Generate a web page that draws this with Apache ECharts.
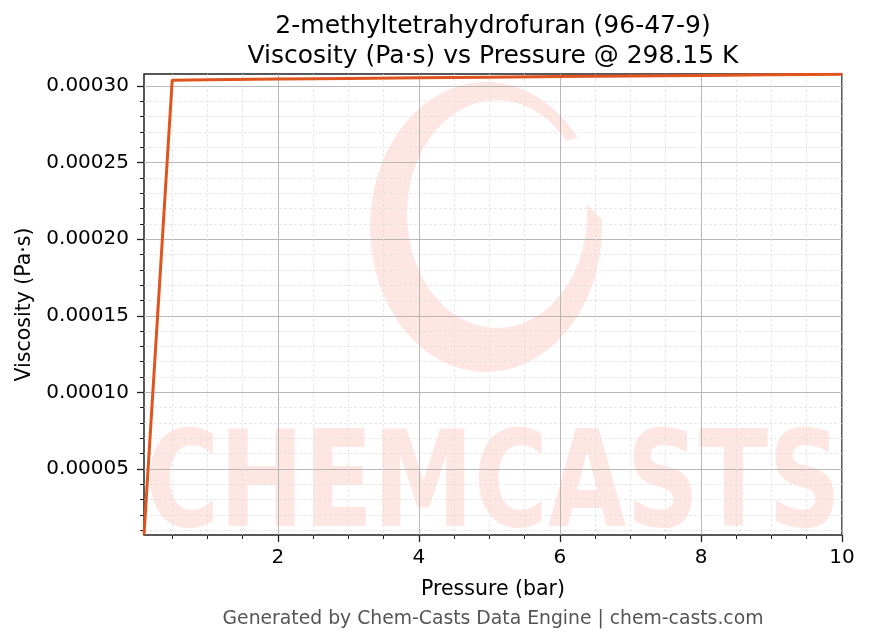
<!DOCTYPE html>
<html>
<head>
<meta charset="utf-8">
<script src="https://cdn.jsdelivr.net/npm/echarts@6/dist/echarts.min.js"></script>
<style>
  html, body { margin: 0; padding: 0; background: #fff; }
  #main { width: 869px; height: 644px; }
</style>
</head>
<body>
<div id="main"></div>
<script>
// pressure (bar) and viscosity (Pa·s)
var pressure = [0.1, 0.5, 1, 2, 3, 4, 5, 6, 7, 8, 9, 10];
var viscosity = [0.0000069, 0.0003038, 0.0003041, 0.0003045, 0.0003049, 0.0003053,
  0.0003057, 0.0003061, 0.0003065, 0.0003069, 0.0003073, 0.0003077];

var xMajor = [2, 4, 6, 8, 10];
var xMinor = [0.5, 1, 1.5, 2.5, 3, 3.5, 4.5, 5, 5.5, 6.5, 7, 7.5, 8.5, 9, 9.5];
var yMajor = [0.00005, 0.0001, 0.00015, 0.0002, 0.00025, 0.0003];
var yMinor = [];
for (var k = 1; k <= 30; k++) {
  if (k % 5 !== 0) yMinor.push(k / 100000);
}

var xMin = 0.1, xMax = 10;
var yMin = 0.0000069, yMax = 0.0003078;

var font = "DejaVu Sans";
var wmColor = "#fee6e3";

// watermark crescent: outer ellipse minus a shifted inner one, open on the right
function crescent() {
  var pts = [];
  var a0 = -38, a1 = -5 - 360;
  for (var a = a0; a >= a1; a -= 5) {
    var t = (a * Math.PI) / 180;
    pts.push([486 + 116 * Math.cos(t), 227 + 145 * Math.sin(t)]);
  }
  for (var b = a1; b <= a0; b += 5) {
    var u = (b * Math.PI) / 180;
    pts.push([497 + 90 * Math.cos(u), 214 + 114 * Math.sin(u)]);
  }
  return pts;
}

var chartDom = document.getElementById("main");
var myChart = echarts.init(chartDom);

var option = {
  animation: false,
  backgroundColor: "#fff",
  title: [
    {
      text: "2-methyltetrahydrofuran (96-47-9)\nViscosity (Pa·s) vs Pressure @ 298.15 K",
      left: 488,
      top: 6.5,
      textAlign: "center",
      textStyle: { fontFamily: font, fontSize: 25, fontWeight: "normal", color: "#000", lineHeight: 30 },
    },
    {
      text: "Generated by Chem-Casts Data Engine | chem-casts.com",
      left: 488,
      top: 605,
      textAlign: "center",
      textStyle: { fontFamily: font, fontSize: 18.8, fontWeight: "normal", color: "#555" },
    },
  ],
  graphic: {
    elements: [
      {
        type: "polygon",
        z: -10,
        shape: { points: crescent() },
        style: { fill: wmColor },
      },
      {
        type: "text",
        z: -10,
        x: 493,
        y: 491,
        scaleX: 0.755,
        style: {
          text: "CHEMCASTS",
          fontFamily: font,
          fontWeight: "bold",
          fontSize: 134,
          fill: wmColor,
          textAlign: "center",
          textVerticalAlign: "middle",
        },
      },
    ],
  },
  grid: {
    left: 144,
    right: 27,
    top: 74,
    bottom: 109,
    show: true,
    borderColor: "#222",
    borderWidth: 1.5,
    backgroundColor: "transparent",
  },
  xAxis: [
    {
      type: "value",
      min: xMin,
      max: xMax,
      position: "bottom",
      name: "Pressure (bar)",
      nameLocation: "middle",
      nameGap: 44,
      nameTextStyle: { fontFamily: font, fontSize: 20.5, color: "#000" },
      axisLine: { show: false },
      axisTick: { show: true, customValues: xMajor, length: 7, lineStyle: { color: "#222", width: 1.3 } },
      axisLabel: {
        customValues: xMajor,
        margin: 13,
        fontFamily: font,
        fontSize: 20,
        color: "#000",
      },
      splitLine: { show: true, lineStyle: { color: "#b0b0b0", width: 0.9 } },
    },
    {
      type: "value",
      min: xMin,
      max: xMax,
      position: "bottom",
      axisLine: { show: false },
      axisTick: { show: true, customValues: xMinor, length: 4, lineStyle: { color: "#222", width: 1 } },
      axisLabel: { show: false },
      splitLine: { show: true, lineStyle: { color: "#dedede", width: 0.7, type: [3, 2] } },
    },
  ],
  yAxis: [
    {
      type: "value",
      min: yMin,
      max: yMax,
      position: "left",
      name: "Viscosity (Pa·s)",
      nameLocation: "middle",
      nameGap: 108,
      nameTextStyle: { fontFamily: font, fontSize: 20.5, color: "#000" },
      axisLine: { show: false },
      axisTick: { show: true, customValues: yMajor, length: 7, lineStyle: { color: "#222", width: 1.3 } },
      axisLabel: {
        customValues: yMajor,
        margin: 15,
        fontFamily: font,
        fontSize: 20,
        color: "#000",
        formatter: function (v) {
          return v.toFixed(5);
        },
      },
      splitLine: { show: true, lineStyle: { color: "#b0b0b0", width: 0.9 } },
    },
    {
      type: "value",
      min: yMin,
      max: yMax,
      position: "left",
      axisLine: { show: false },
      axisTick: { show: true, customValues: yMinor, length: 4, lineStyle: { color: "#222", width: 1 } },
      axisLabel: { show: false },
      splitLine: { show: true, lineStyle: { color: "#dedede", width: 0.7, type: [3, 2] } },
    },
  ],
  series: [
    {
      type: "line",
      xAxisIndex: 0,
      yAxisIndex: 0,
      data: pressure.map(function (p, i) {
        return [p, viscosity[i]];
      }),
      showSymbol: false,
      symbol: "none",
      lineStyle: { color: "#e0541f", width: 3 },
      z: 5,
    },
  ],
};

option && myChart.setOption(option);
</script>
</body>
</html>
